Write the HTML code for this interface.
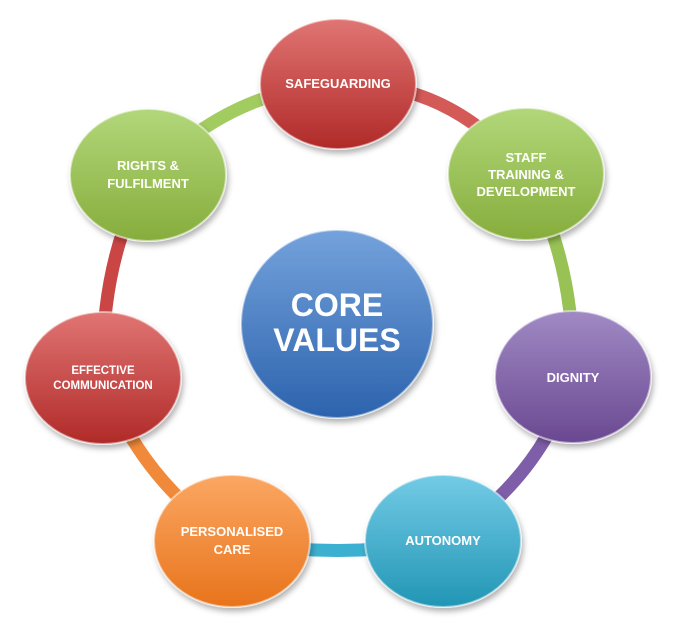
<!DOCTYPE html>
<html><head><meta charset="utf-8"><style>
html,body{margin:0;padding:0;background:#fff;}
svg{display:block;}
text{font-family:"Liberation Sans",sans-serif;font-weight:bold;fill:#fff;text-anchor:middle;}
</style></head><body>
<svg width="676" height="636" viewBox="0 0 676 636" xmlns="http://www.w3.org/2000/svg">
<defs>
<linearGradient id="red" x1="0" y1="0" x2="0" y2="1"><stop offset="0" stop-color="#e07573"/><stop offset="1" stop-color="#b02a28"/></linearGradient>
<linearGradient id="green" x1="0" y1="0" x2="0" y2="1"><stop offset="0" stop-color="#b2d77a"/><stop offset="1" stop-color="#86ad3c"/></linearGradient>
<linearGradient id="purple" x1="0" y1="0" x2="0" y2="1"><stop offset="0" stop-color="#a08ac4"/><stop offset="1" stop-color="#6a4891"/></linearGradient>
<linearGradient id="cyan" x1="0" y1="0" x2="0" y2="1"><stop offset="0" stop-color="#73cbe6"/><stop offset="1" stop-color="#2196b5"/></linearGradient>
<linearGradient id="orange" x1="0" y1="0" x2="0" y2="1"><stop offset="0" stop-color="#fba762"/><stop offset="1" stop-color="#e8741c"/></linearGradient>
<linearGradient id="blue" x1="0" y1="0" x2="0" y2="1"><stop offset="0" stop-color="#74a2dc"/><stop offset="1" stop-color="#2c63ad"/></linearGradient>
<filter id="sh" x="-20%" y="-20%" width="140%" height="140%"><feDropShadow dx="2" dy="4" stdDeviation="3" flood-color="#000" flood-opacity="0.3"/></filter>
</defs>
<g fill="none" stroke-width="13" stroke-linecap="butt">
<path d="M338,84 Q450,80 526,174" stroke="#d45a58"/>
<path d="M526,174 Q575,260 573,377" stroke="#98c254"/>
<path d="M573,377 Q540,480 443,541" stroke="#7e5ea8"/>
<path d="M443,541 Q338,560 232,541" stroke="#3cb0d0"/>
<path d="M232,541 Q140,480 103,378" stroke="#f08a3a"/>
<path d="M103,378 Q100,260 148,175" stroke="#c94644"/>
<path d="M148,175 Q230,90 338,84" stroke="#a2cb60"/>
</g>
<g filter="url(#sh)" stroke="#fff" stroke-opacity="0.5" stroke-width="2">
<ellipse cx="338" cy="84" rx="78" ry="65" fill="url(#red)"/>
<ellipse cx="526" cy="174" rx="78" ry="66" fill="url(#green)"/>
<ellipse cx="148" cy="175" rx="78" ry="66" fill="url(#green)"/>
<ellipse cx="573" cy="377" rx="78" ry="66" fill="url(#purple)"/>
<ellipse cx="103" cy="378" rx="78" ry="66" fill="url(#red)"/>
<ellipse cx="443" cy="541" rx="78" ry="66" fill="url(#cyan)"/>
<ellipse cx="232" cy="541" rx="78" ry="66" fill="url(#orange)"/>
<ellipse cx="337" cy="324" rx="96" ry="94" fill="url(#blue)"/>
</g>
<text x="338" y="88" font-size="13">SAFEGUARDING</text>
<text x="526" y="162" font-size="13">STAFF</text>
<text x="526" y="179" font-size="13">TRAINING &amp;</text>
<text x="526" y="196" font-size="13">DEVELOPMENT</text>
<text x="148" y="170" font-size="13">RIGHTS &amp;</text>
<text x="148" y="188" font-size="13">FULFILMENT</text>
<text x="573" y="382" font-size="13">DIGNITY</text>
<text x="103" y="374" font-size="11.5">EFFECTIVE</text>
<text x="103" y="389" font-size="11.5">COMMUNICATION</text>
<text x="443" y="545" font-size="13">AUTONOMY</text>
<text x="232" y="536" font-size="13">PERSONALISED</text>
<text x="232" y="554" font-size="13">CARE</text>
<text x="337" y="316" font-size="32" font-weight="normal">CORE</text>
<text x="337" y="351" font-size="32" font-weight="normal">VALUES</text>
</svg>
</body></html>
